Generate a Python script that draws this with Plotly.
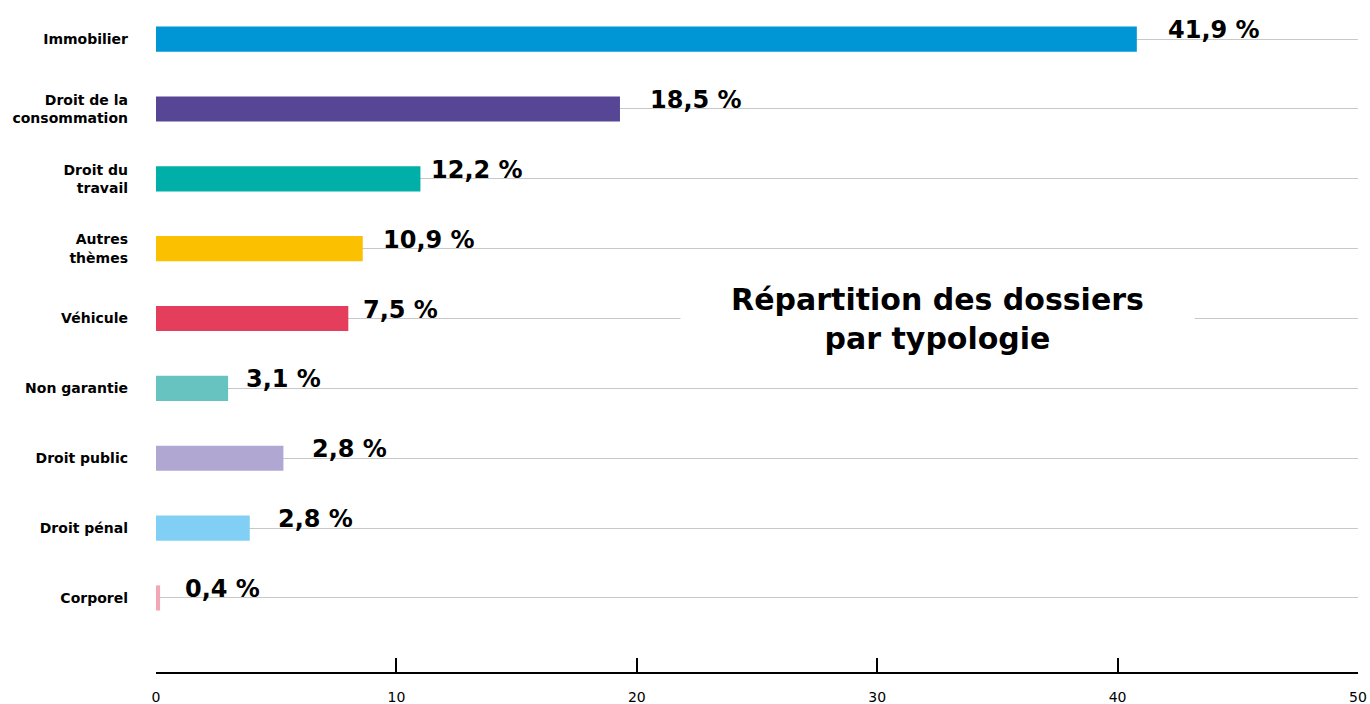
import plotly.graph_objects as go

categories = ["Immobilier", "Droit de la<br>consommation", "Droit du<br>travail", "Autres<br>thèmes",
              "Véhicule", "Non garantie", "Droit public", "Droit pénal", "Corporel"]
bar_values = [40.8, 19.3, 11.0, 8.6, 8.0, 3.0, 5.3, 3.9, 0.17]
value_labels = ["41,9 %", "18,5 %", "12,2 %", "10,9 %", "7,5 %", "3,1 %", "2,8 %", "2,8 %", "0,4 %"]
colors = ["#0096D6", "#574696", "#00B0A8", "#FBC000", "#E53E5C", "#66C3BF", "#B0A8D3", "#82CFF5", "#F2A8B4"]
label_shift = [29, 28, 9, 18, 13, 16, 27, 26, 23]
x_ticks = [0, 10, 20, 30, 40, 50]

FONT = "DejaVu Sans"
idx = list(range(len(categories)))

fig = go.Figure()
fig.add_trace(go.Bar(
    x=bar_values, y=idx, orientation="h", width=0.36,
    marker=dict(color=colors, line=dict(width=0)),
    hoverinfo="skip",
))

for i, (v, t, s) in enumerate(zip(bar_values, value_labels, label_shift)):
    fig.add_annotation(x=v, y=i, text=t, showarrow=False, xanchor="left", yanchor="middle",
                       xshift=s, yshift=9,
                       font=dict(family=FONT, size=24, color="#000000", weight="bold"))

fig.add_annotation(x=0.65, xref="paper", y=4.0, yref="y",
                   text="Répartition des dossiers<br>par typologie", showarrow=False,
                   xanchor="center", yanchor="middle", width=513, align="center",
                   bgcolor="#ffffff", borderpad=0,
                   font=dict(family=FONT, size=30, color="#000000", weight="bold"))

fig.update_layout(
    width=1370, height=704,
    margin=dict(l=156, r=12, t=0, b=32),
    plot_bgcolor="#ffffff", paper_bgcolor="#ffffff",
    showlegend=False,
    xaxis=dict(range=[0, 50], tickvals=x_ticks, ticktext=[str(t) for t in x_ticks],
               showgrid=False, zeroline=False, showline=True, linecolor="#000000", linewidth=2,
               ticks="inside", ticklen=14, tickwidth=2, tickcolor="#000000",
               ticklabelstandoff=11, automargin=False,
               tickfont=dict(family=FONT, size=14, color="#000000")),
    yaxis=dict(range=[9.06, -0.56], tickvals=idx, ticktext=categories,
               showgrid=True, gridcolor="#c8c8c8", gridwidth=1, zeroline=False,
               showline=False, ticks="", ticklabelstandoff=27, automargin=False,
               tickfont=dict(family=FONT, size=14, color="#000000", weight="bold")),
)

fig.write_html("out.html", config={"displayModeBar": False},
               post_script="document.body.style.margin='0';document.body.style.padding='0';")
